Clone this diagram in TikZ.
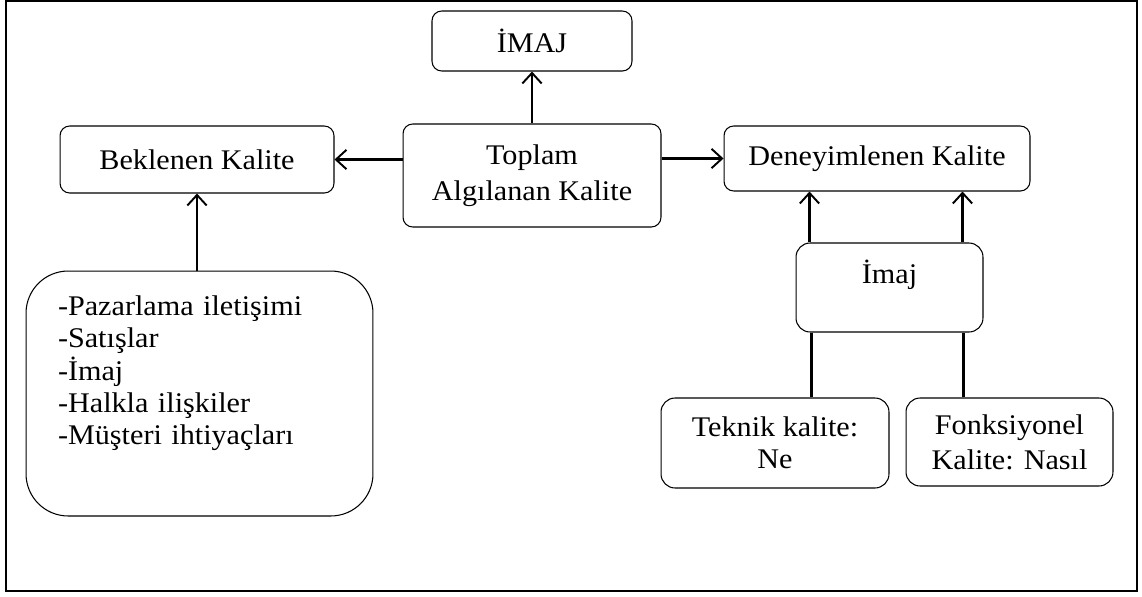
\documentclass[tikz,border=0pt]{standalone}
\usepackage{fontspec}
\setmainfont{Liberation Serif}[FakeStretch=1.06]
\usetikzlibrary{arrows.meta}

\begin{document}
\begin{tikzpicture}[x=0.02cm,y=-0.02cm,
  box/.style={draw,rounded corners=5.5pt,line width=0.6pt,align=center,inner sep=0pt,
    font=\fontsize{16.2}{18.3}\selectfont},
  arr/.style={line width=1.2pt,-{Straight Barb[length=6pt,width=11pt,line width=1.1pt]}},
  ln/.style={line width=1.2pt}]
 \useasboundingbox (0,0) rectangle (1142,596);
 \draw [line width=1.1pt] (6,1) rectangle (1137,591);
 \node[box,minimum width=4cm,minimum height=1.2cm] (imaj) at (532,41) {İMAJ};
 \node[box,minimum width=5.16cm,minimum height=2.06cm,font=\fontsize{16.2}{20.4}\selectfont] (toplam) at (532,175.5) {Toplam\\Algılanan Kalite};
 \node[box,minimum width=5.48cm,minimum height=1.34cm] (bekl) at (197,159.5) {Beklenen Kalite};
 \node[box,minimum width=6.12cm,minimum height=1.3cm] (den) at (877,158.5) {Deneyimlenen Kalite};
 \node[box,rounded corners=8pt,minimum width=3.74cm,minimum height=1.78cm] (imj) at (889.5,287.5) {İmaj\\~};
 \node[box,rounded corners=8pt,minimum width=4.56cm,minimum height=1.8cm] (tek) at (775,443) {Teknik kalite:\\Ne};
 \node[box,rounded corners=8pt,minimum width=4.14cm,minimum height=1.76cm,font=\fontsize{16.2}{19.8}\selectfont] (fonk) at (1009.5,442) {Fonksiyonel\\Kalite: Nasıl};
 \node[box,rounded corners=24pt,align=left,text width=5.66cm,inner xsep=0.64cm,minimum height=4.9cm] (liste) at (199.5,393.5)
   {-Pazarlama iletişimi\\-Satışlar\\-İmaj\\-Halkla ilişkiler\\-Müşteri ihtiyaçları\\[8.3pt]~};
 \draw [arr] (toplam) -- (imaj);
 \draw [arr] (toplam.west |- bekl.east) -- (bekl.east);
 \draw [arr] (toplam.east |- den.west) -- (den.west);
 \draw [arr] (bekl.south |- liste.north) -- (bekl.south);
 \draw [arr] ([xshift=0.28cm]imj.north west) -- ([xshift=0.28cm]imj.north west |- den.south);
 \draw [arr] ([xshift=-0.42cm]imj.north east) -- ([xshift=-0.42cm]imj.north east |- den.south);
 \draw [ln] ([xshift=0.32cm]imj.south west) -- ([xshift=0.32cm]imj.south west |- tek.north);
 \draw [ln] ([xshift=-0.4cm]imj.south east) -- ([xshift=-0.4cm]imj.south east |- fonk.north);
\end{tikzpicture}
\end{document}
